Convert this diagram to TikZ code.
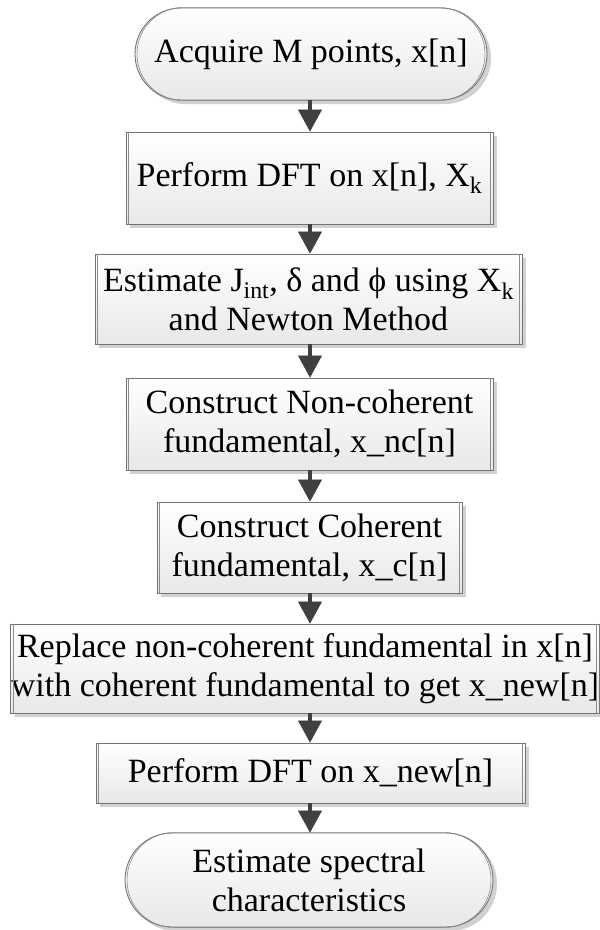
\documentclass[tikz,border=0pt]{standalone}
\usepackage{fontspec}
\setmainfont{Liberation Serif}
\usetikzlibrary{arrows.meta,shadows}

\begin{document}
\begin{tikzpicture}[x=1pt,y=-1pt,
  base/.style={draw=black!55, line width=0.9pt, top color=white, bottom color=black!9,
    drop shadow={shadow xshift=4pt, shadow yshift=-4pt, fill=black!18, opacity=1},
    inner sep=0pt, align=center, font=\fontsize{34}{39}\selectfont},
  stepbox/.style={base, rectangle},
  termbox/.style={base, rectangle, rounded corners=#1},
  innerline/.style={draw=black!45, line width=0.6pt},
  arr/.style={draw=black!75, line width=4pt,
    -{Triangle[width=24pt,length=22pt,line width=0.5pt]}}]

\useasboundingbox (0,0) rectangle (600,930);

% vertical axis shared by all connectors
\coordinate (axis) at (310,0);

% terminals and process steps
\node[termbox=46pt, minimum width=352pt, minimum height=92pt] (t1) at (311,54)
  {Acquire M points, x[n]};
\node[stepbox, minimum width=367pt, minimum height=92pt] (b2) at (309.5,178)
  {Perform DFT on x[n], X\textsubscript{k}};
\node[stepbox, minimum width=427pt, minimum height=90pt] (b3) at (308.5,299)
  {Estimate J\textsubscript{int}, δ and ϕ using X\textsubscript{k}\\and Newton Method};
\node[stepbox, minimum width=367pt, minimum height=92pt] (b4) at (309.5,424)
  {Construct Non-coherent\\fundamental, x\_nc[n]};
\node[stepbox, minimum width=305pt, minimum height=91pt] (b5) at (309.5,547.5)
  {Construct Coherent\\fundamental, x\_c[n]};
\node[stepbox, minimum width=584pt, minimum height=89pt] (b6) at (305,668.5)
  {Replace non-coherent fundamental in x[n]\\with coherent fundamental to get x\_new[n]};
\node[stepbox, minimum width=429pt, minimum height=60pt] (b7) at (310.5,773)
  {Perform DFT on x\_new[n]};
\node[termbox=47pt, minimum width=368pt, minimum height=94pt] (t2) at (309,880)
  {Estimate spectral\\characteristics};

% inner double lines on the sides of each step
\foreach \n in {b2,b3,b4,b5,b6,b7}{
  \draw[innerline] ([xshift=2.8pt]\n.north west) -- ([xshift=2.8pt]\n.south west);
  \draw[innerline] ([xshift=-2.8pt]\n.north east) -- ([xshift=-2.8pt]\n.south east);
}
\draw[innerline, rounded corners=46pt] ([xshift=2.5pt]t1.north west) rectangle ([xshift=-2.5pt]t1.south east);
\draw[innerline, rounded corners=47pt] ([xshift=2.5pt]t2.north west) rectangle ([xshift=-2.5pt]t2.south east);

% connectors
\foreach \a/\b in {t1/b2,b2/b3,b3/b4,b4/b5,b5/b6,b6/b7,b7/t2}{
  \draw[arr] (\a.south -| axis) -- (\b.north -| axis);
}
\end{tikzpicture}
\end{document}
